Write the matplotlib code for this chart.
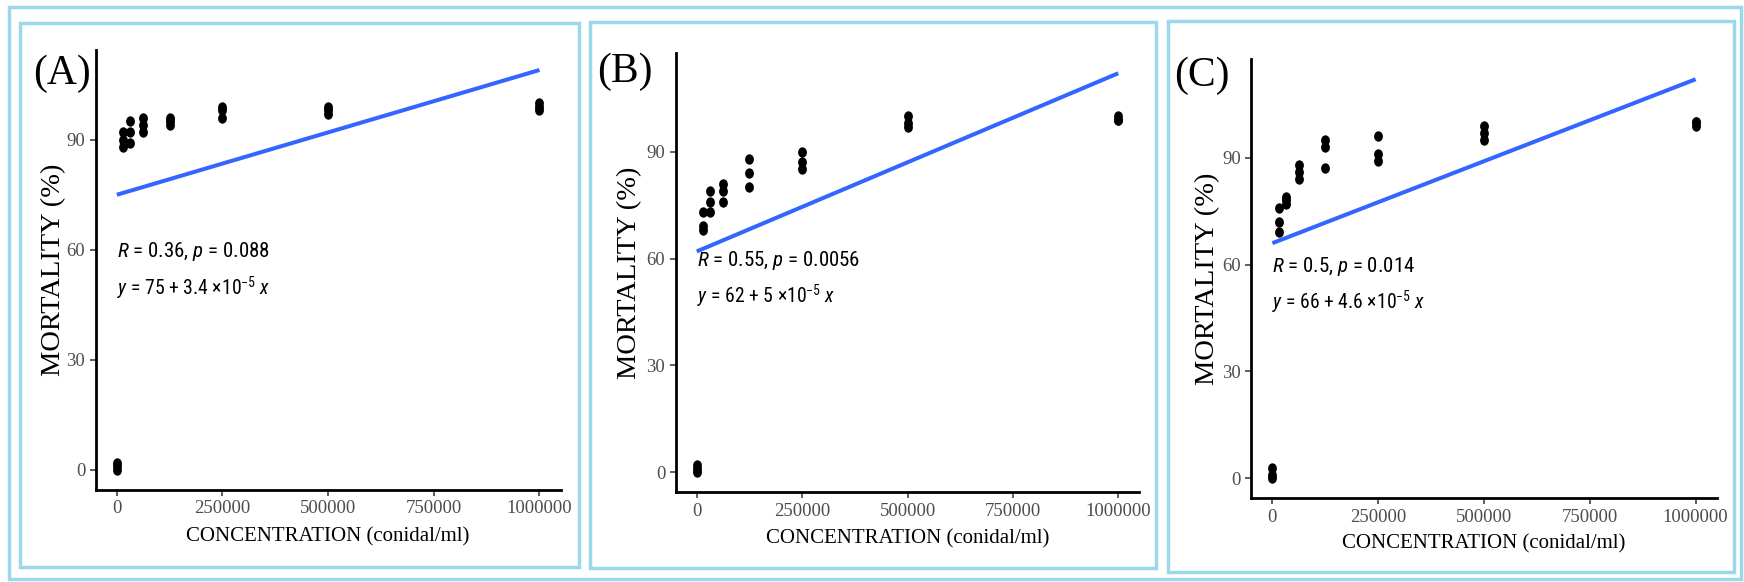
import matplotlib
matplotlib.use("Agg")
import matplotlib.pyplot as plt
from matplotlib.patches import Rectangle
from matplotlib.path import Path
from matplotlib import font_manager
import numpy as np

# ---------------- data ----------------
concentration = [0, 15625, 31250, 62500, 125000, 250000, 500000, 1000000]

mortality_A = [[0, 1, 2], [88, 90, 92], [89, 92, 95], [92, 94, 96],
               [94, 95, 96], [96, 98, 99], [97, 98, 99], [98, 99, 100]]
mortality_B = [[0, 1, 2], [68, 69, 73], [73, 76, 79], [76, 79, 81],
               [80, 84, 88], [85, 87, 90], [97, 98, 100], [99, 99, 100]]
mortality_C = [[0, 1, 3], [69, 72, 76], [77, 78, 79], [84, 86, 88],
               [87, 93, 95], [89, 91, 96], [95, 97, 99], [99, 100, 100]]

panel_letters = ["(A)", "(B)", "(C)"]
intercepts = [75, 62, 66]
slopes = [3.4e-5, 5e-5, 4.6e-5]
slope_labels = ["3.4", "5", "4.6"]
r_values = ["0.36", "0.55", "0.5"]
p_values = ["0.088", "0.0056", "0.014"]

x_ticks = [0, 250000, 500000, 750000, 1000000]
y_ticks = [0, 30, 60, 90]
x_title = "CONCENTRATION (conidal/ml)"
y_title = "MORTALITY (%)"

# ---------------- fonts ----------------
names = {f.name for f in font_manager.fontManager.ttflist}
sans, ann_size = "Liberation Sans", 12.6
for cand in ["Liberation Sans Narrow", "Arial Narrow", "Roboto Condensed", "Open Sans Condensed"]:
    if cand in names:
        sans, ann_size = cand, 15
        break
serif = "Liberation Serif"
plt.rcParams["mathtext.fontset"] = "custom"
plt.rcParams["mathtext.rm"] = sans
plt.rcParams["mathtext.it"] = sans + ":italic"
plt.rcParams["mathtext.bf"] = sans + ":bold"

W, H = 1744, 582
fig = plt.figure(figsize=(W / 100, H / 100), dpi=100)

BORDER = "#9bd8e9"

# slightly tall dot marker (the reference dots are a bit elongated vertically)
_circ = Path.unit_circle()
dot_marker = Path(_circ.vertices * np.array([0.85, 1.0]), _circ.codes)


def rect_px(x0, y0, x1, y1, lw=2.5):
    fig.add_artist(Rectangle((x0 / W, 1 - y1 / H), (x1 - x0) / W, (y1 - y0) / H,
                             transform=fig.transFigure, fill=False,
                             edgecolor=BORDER, linewidth=lw, zorder=0))


# outer frame and panel frames (pixels)
rect_px(9, 6.7, 1741, 579)
panel_frames = [(20, 22.7, 579, 566.7), (589.5, 22.3, 1155.5, 567.5), (1168, 20.5, 1733.5, 571.5)]
for fr in panel_frames:
    rect_px(*fr)

# axes boxes in pixels: left, top, right, bottom
axes_px = [(95.7, 50, 560.6, 490), (675.7, 53.3, 1139.3, 492.3), (1251.2, 59.3, 1716.8, 498.3)]
letter_pos = [(33.5, 84), (597.5, 82), (1174.5, 85.5)]
ylabel_right = [66, 642, 1220.5]
xlabel_top = [527, 529.5, 534.5]

datasets = [mortality_A, mortality_B, mortality_C]

for i in range(3):
    l, t, r, b = axes_px[i]
    ax = fig.add_axes([l / W, 1 - b / H, (r - l) / W, (b - t) / H])
    data = datasets[i]
    xs = np.repeat(concentration, 3)
    ys = np.array(data, dtype=float).ravel()
    ax.scatter(xs, ys, s=56, marker=dot_marker, color="black", zorder=3, linewidths=0)

    line_x = np.array([min(concentration), max(concentration)], dtype=float)
    line_y = intercepts[i] + slopes[i] * line_x
    ax.plot(line_x, line_y, color="#3366FF", linewidth=2.9, zorder=2,
            solid_capstyle="butt")

    ymin = min(ys.min(), line_y.min())
    ymax = max(ys.max(), line_y.max())
    pad = 0.05 * (ymax - ymin)
    ax.set_ylim(ymin - pad, ymax + pad)
    xpad = 0.05 * (max(concentration) - min(concentration))
    ax.set_xlim(min(concentration) - xpad, max(concentration) + xpad)

    ax.set_xticks(x_ticks)
    ax.set_xticklabels([str(v) for v in x_ticks])
    ax.set_yticks(y_ticks)
    ax.set_yticklabels([str(v) for v in y_ticks])

    for s in ["top", "right"]:
        ax.spines[s].set_visible(False)
    for s in ["left", "bottom"]:
        ax.spines[s].set_linewidth(2.0)
        ax.spines[s].set_color("black")
    ax.tick_params(axis="both", length=4.5, width=1.1, color="#333333",
                   labelcolor="#4D4D4D", labelsize=13.5, pad=3)
    for lab in ax.get_xticklabels() + ax.get_yticklabels():
        lab.set_fontfamily(serif)

    ax.set_xlabel(x_title, fontsize=15, fontfamily=serif, color="black")
    ax.xaxis.set_label_coords(0.5, -(xlabel_top[i] - b) / (b - t))
    ax.set_ylabel(y_title, fontsize=20.5, fontfamily=serif, color="black")
    ax.yaxis.set_label_coords((ylabel_right[i] - l) / (r - l), 0.5)

    ax.text(0, 58, "$R$ = %s, $p$ = %s" % (r_values[i], p_values[i]),
            fontsize=ann_size, fontfamily=sans, ha="left", va="baseline", color="black")
    ax.text(0, 47.5, "$y$ = %d + %s $\\times$10$^{-5}$ $x$" % (intercepts[i], slope_labels[i]),
            fontsize=ann_size * 0.95, fontfamily=sans, ha="left", va="baseline", color="black")

    lx, ly = letter_pos[i]
    fig.text(lx / W, 1 - ly / H, panel_letters[i], fontsize=30, fontfamily=serif,
             ha="left", va="baseline", color="black")

fig.savefig("out.png", dpi=100, facecolor="white")
